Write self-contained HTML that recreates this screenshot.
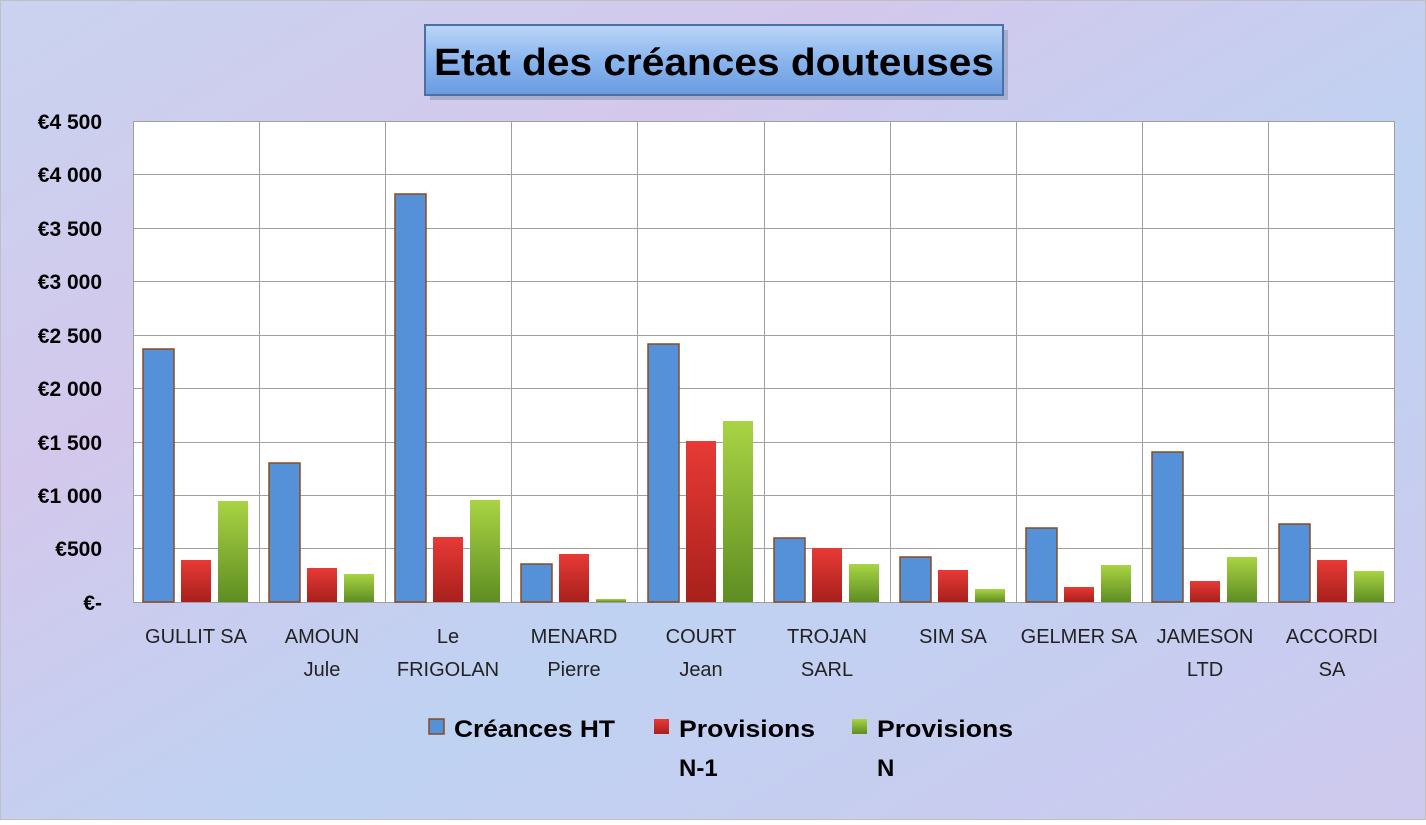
<!DOCTYPE html>
<html><head><meta charset="utf-8"><style>html,body{margin:0;padding:0}body{width:1426px;height:820px;overflow:hidden}</style></head>
<body>
<svg width="1426" height="820" xmlns="http://www.w3.org/2000/svg" font-family="Liberation Sans, sans-serif">
<defs>
<linearGradient id="bg" x1="0" y1="0" x2="1" y2="1">
<stop offset="0" stop-color="#c9d3f0"/><stop offset="0.3" stop-color="#d3c8ec"/><stop offset="0.6" stop-color="#bfd2f2"/><stop offset="1" stop-color="#cfc9ee"/></linearGradient>
<linearGradient id="tb" x1="0" y1="0" x2="0" y2="1"><stop offset="0" stop-color="#bcd6f7"/><stop offset="0.5" stop-color="#8ab6ee"/><stop offset="1" stop-color="#6a9be0"/></linearGradient>
<linearGradient id="rd" x1="0" y1="0" x2="0" y2="1"><stop offset="0" stop-color="#e83a36"/><stop offset="1" stop-color="#a8201c"/></linearGradient>
<linearGradient id="gr" x1="0" y1="0" x2="0" y2="1"><stop offset="0" stop-color="#a9d444"/><stop offset="1" stop-color="#5e8d22"/></linearGradient>
</defs>
<rect width="1426" height="820" fill="url(#bg)"/>
<rect x="0.5" y="0.5" width="1425" height="819" fill="none" stroke="#c0c0c0"/>
<rect x="430" y="30" width="578" height="70" fill="#8090a8" opacity="0.5"/>
<rect x="425" y="25" width="578" height="70" fill="url(#tb)" stroke="#4a70a8" stroke-width="2"/>
<text x="714" y="75" text-anchor="middle" font-size="38" font-weight="bold" textLength="560" lengthAdjust="spacingAndGlyphs">Etat des créances douteuses</text>
<rect x="133" y="121" width="1262" height="481" fill="#fff"/>
<g stroke="#a0a0a0" stroke-width="1">
<line x1="133" y1="121.5" x2="1395" y2="121.5"/><line x1="133" y1="174.5" x2="1395" y2="174.5"/><line x1="133" y1="228.5" x2="1395" y2="228.5"/><line x1="133" y1="281.5" x2="1395" y2="281.5"/><line x1="133" y1="335.5" x2="1395" y2="335.5"/><line x1="133" y1="388.5" x2="1395" y2="388.5"/><line x1="133" y1="442.5" x2="1395" y2="442.5"/><line x1="133" y1="495.5" x2="1395" y2="495.5"/><line x1="133" y1="548.5" x2="1395" y2="548.5"/><line x1="133" y1="602.5" x2="1395" y2="602.5"/>
<line x1="133.5" y1="121" x2="133.5" y2="602"/><line x1="259.5" y1="121" x2="259.5" y2="602"/><line x1="385.5" y1="121" x2="385.5" y2="602"/><line x1="511.5" y1="121" x2="511.5" y2="602"/><line x1="637.5" y1="121" x2="637.5" y2="602"/><line x1="764.5" y1="121" x2="764.5" y2="602"/><line x1="890.5" y1="121" x2="890.5" y2="602"/><line x1="1016.5" y1="121" x2="1016.5" y2="602"/><line x1="1142.5" y1="121" x2="1142.5" y2="602"/><line x1="1268.5" y1="121" x2="1268.5" y2="602"/><line x1="1394.5" y1="121" x2="1394.5" y2="602"/>
</g>
<g font-size="21" font-weight="bold" text-anchor="end">
<text x="102" y="129">€4 500</text><text x="102" y="182">€4 000</text><text x="102" y="236">€3 500</text><text x="102" y="289">€3 000</text><text x="102" y="343">€2 500</text><text x="102" y="396">€2 000</text><text x="102" y="450">€1 500</text><text x="102" y="503">€1 000</text><text x="102" y="556">€500</text><text x="102" y="610">€-</text>
</g>
<g stroke-width="1.5">
<g stroke="#8b4a1e" fill="#5591d9">
<rect x="143" y="349" width="31" height="253"/><rect x="269" y="463" width="31" height="139"/><rect x="395" y="194" width="31" height="408"/><rect x="521" y="564" width="31" height="38"/><rect x="648" y="344" width="31" height="258"/><rect x="774" y="538" width="31" height="64"/><rect x="900" y="557" width="31" height="45"/><rect x="1026" y="528" width="31" height="74"/><rect x="1152" y="452" width="31" height="150"/><rect x="1279" y="524" width="31" height="78"/>
</g>
<g fill="url(#rd)" stroke="none">
<rect x="181" y="560" width="30" height="42"/><rect x="307" y="568" width="30" height="34"/><rect x="433" y="537" width="30" height="65"/><rect x="559" y="554" width="30" height="48"/><rect x="686" y="441" width="30" height="161"/><rect x="812" y="548" width="30" height="54"/><rect x="938" y="570" width="30" height="32"/><rect x="1064" y="587" width="30" height="15"/><rect x="1190" y="581" width="30" height="21"/><rect x="1317" y="560" width="30" height="42"/>
</g>
<g fill="url(#gr)" stroke="none">
<rect x="218" y="501" width="30" height="101"/><rect x="344" y="574" width="30" height="28"/><rect x="470" y="500" width="30" height="102"/><rect x="596" y="599" width="30" height="3"/><rect x="723" y="421" width="30" height="181"/><rect x="849" y="564" width="30" height="38"/><rect x="975" y="589" width="30" height="13"/><rect x="1101" y="565" width="30" height="37"/><rect x="1227" y="557" width="30" height="45"/><rect x="1354" y="571" width="30" height="31"/>
</g>
</g>
<g font-size="20" text-anchor="middle" fill="#222">
<text x="196" y="643">GULLIT SA</text>
<text x="322" y="643">AMOUN</text><text x="322" y="676">Jule</text>
<text x="448" y="643">Le</text><text x="448" y="676">FRIGOLAN</text>
<text x="574" y="643">MENARD</text><text x="574" y="676">Pierre</text>
<text x="701" y="643">COURT</text><text x="701" y="676">Jean</text>
<text x="827" y="643">TROJAN</text><text x="827" y="676">SARL</text>
<text x="953" y="643">SIM SA</text>
<text x="1079" y="643">GELMER SA</text>
<text x="1205" y="643">JAMESON</text><text x="1205" y="676">LTD</text>
<text x="1332" y="643">ACCORDI</text><text x="1332" y="676">SA</text>
</g>
<rect x="429" y="719" width="15" height="15" fill="#5591d9" stroke="#8b4a1e" stroke-width="1.5"/>
<rect x="654" y="719" width="15" height="15" fill="url(#rd)"/>
<rect x="852" y="719" width="15" height="15" fill="url(#gr)"/>
<g font-size="24" font-weight="bold">
<text x="454" y="737" textLength="161" lengthAdjust="spacingAndGlyphs">Créances HT</text>
<text x="679" y="737" textLength="136" lengthAdjust="spacingAndGlyphs">Provisions</text><text x="679" y="776">N-1</text>
<text x="877" y="737" textLength="136" lengthAdjust="spacingAndGlyphs">Provisions</text><text x="877" y="776">N</text>
</g>
</svg>
</body></html>
